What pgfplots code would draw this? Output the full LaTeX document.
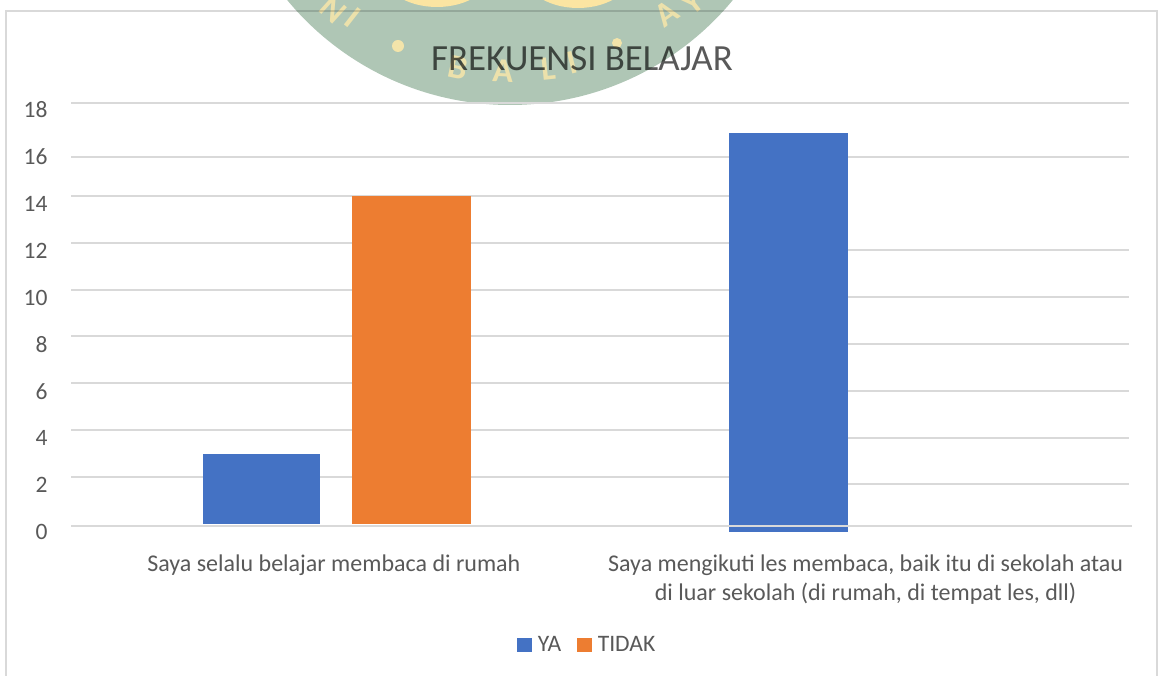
\documentclass[border=0pt]{standalone}
\usepackage{fontspec}
\setmainfont{Carlito}
\usepackage{pgfplots}
\pgfplotsset{compat=1.18}
\definecolor{ya}{HTML}{4472C4}
\definecolor{tidak}{HTML}{ED7D31}
\definecolor{gridc}{HTML}{D9D9D9}
\definecolor{txt}{HTML}{595959}
\definecolor{wm}{HTML}{AFC6B5}
\definecolor{wmy}{HTML}{F3E4AA}
\definecolor{wmb}{HTML}{FBE5A2}
\pgfplotsset{commonaxis/.style={
  at={(71pt,144pt)}, anchor=south west,
  scale only axis, width=1059pt, height=422pt,
  xmin=-0.5047, xmax=1.5047, clip=false}}
\begin{document}
\begin{tikzpicture}[x=1pt,y=1pt]
\useasboundingbox (0,0) rectangle (1158,676);
% watermark behind the chart (y in picture pixels, measured from the top)
\begin{scope}[shift={(0,676)},y=-1pt]
\clip (0,0) rectangle (1158,676);
\fill[wm] (510,-184) circle[radius=289];
\fill[wmb] (437,-30) ellipse[x radius=56,y radius=37];
\fill[wmb] (578,-30) ellipse[x radius=56,y radius=38];
\fill[wmy] (398,46) circle[radius=6];
\fill[wmy] (617,43) circle[radius=5];
\tikzset{wml/.style={text=wmy,text opacity=0.9,font=\fontsize{34pt}{34pt}\bfseries\selectfont,inner sep=0pt}}
\node[wml,rotate=-38] at (353,18) {I};
\node[wml,rotate=-42] at (333,10) {N};
\node[wml,rotate=-12] at (458,68) {B};
\node[wml,rotate=-3] at (503,71) {A};
\node[wml,rotate=6] at (548,69) {L};
\node[wml,rotate=14] at (572,63) {I};
\node[wml,rotate=35] at (667,14) {A};
\node[wml,rotate=38] at (693,2) {Y};
\end{scope}
\begin{axis}[commonaxis,
  ymin=0, ymax=18,
  axis line style={draw=none},
  major tick length=0pt,
  ytick={0,2,...,18},
  xtick={-0.006,1.003},
  xticklabels={{Saya selalu belajar membaca di rumah},{Saya mengikuti les membaca, baik itu di sekolah atau\\di luar sekolah (di rumah, di tempat les, dll)}},
  xticklabel style={align=center,text=txt,font=\fontsize{24pt}{29pt}\selectfont,yshift=-19pt},
  yticklabel style={text=txt,font=\fontsize{23.5pt}{26pt}\selectfont,/pgf/number format/assume math mode=true,xshift=-20pt},
  title={FREKUENSI BELAJAR},
  title style={at={(0.4825,1.1064)},anchor=center,text=txt,font=\fontsize{36.9pt}{40pt}\selectfont,blend mode=multiply,inner sep=0pt},
  unbounded coords=jump,
]
% left part of the gridlines (shifted in the scan)
\addplot[gridc,line width=2pt,forget plot] coordinates {
 (-0.5047,18.29)(0.9696,18.29)(0.9696,nan)
 (-0.5047,16.01)(0.7437,16.01)(0.7437,nan)
 (-0.5047,14.35)(0.7437,14.35)(0.7437,nan)
 (-0.5047,12.34)(0.7437,12.34)(0.7437,nan)
 (-0.5047,10.34)(0.7437,10.34)(0.7437,nan)
 (-0.5047,8.37)(0.7437,8.37)(0.7437,nan)
 (-0.5047,6.37)(0.7437,6.37)(0.7437,nan)
 (-0.5047,4.36)(0.7437,4.36)(0.7437,nan)
 (-0.5047,2.36)(0.7437,2.36)};
% right part of the gridlines
\addplot[gridc,line width=2pt,forget plot] coordinates {
 (0.9696,18.29)(1.5028,18.29)(1.5028,nan)
 (0.9696,16.01)(1.5028,16.01)(1.5028,nan)
 (0.9696,12.02)(1.5028,12.02)(1.5028,nan)
 (0.9696,10.01)(1.5028,10.01)(1.5028,nan)
 (0.9696,8.02)(1.5028,8.02)(1.5028,nan)
 (0.9696,6.02)(1.5028,6.02)(1.5028,nan)
 (0.9696,4.02)(1.5028,4.02)(1.5028,nan)
 (0.9696,2.04)(1.5028,2.04)};
\addplot[ybar,bar width=119pt,bar shift=-75.5pt,fill=ya,draw=none,forget plot] coordinates {(1,17)};
\addplot[gridc,line width=2pt,forget plot] coordinates {(-0.5047,0.256)(1.5085,0.256)};
\end{axis}
\begin{axis}[commonaxis,
  ymin=-0.32, ymax=17.68,
  hide axis,
  xtick=\empty, ytick=\empty,
  legend columns=2,
  legend style={at={(0.4876,-0.268)},anchor=center,draw=none,fill=none,
    font=\fontsize{23.6pt}{26pt}\selectfont,text=txt,inner sep=0pt,
    /tikz/every even column/.style={column sep=14pt}},
  legend image code/.code={\fill[#1] (0pt,-7pt) rectangle (14.5pt,7pt);},
]
\addplot[ybar,bar width=117pt,bar shift=-75.25pt,fill=ya,draw=none] coordinates {(0,3)};
\addplot[ybar,bar width=118.5pt,bar shift=74.75pt,fill=tidak,draw=none] coordinates {(0,14)};
\legend{\hspace{4pt}YA,\hspace{4pt}TIDAK}
\end{axis}
% chart frame
\begin{scope}[shift={(0,676)},y=-1pt,blend mode=multiply]
\draw[gridc,line width=2pt] (6,677) -- (6,11) -- (1157,11) -- (1157,677);
\end{scope}
\end{tikzpicture}
\end{document}
